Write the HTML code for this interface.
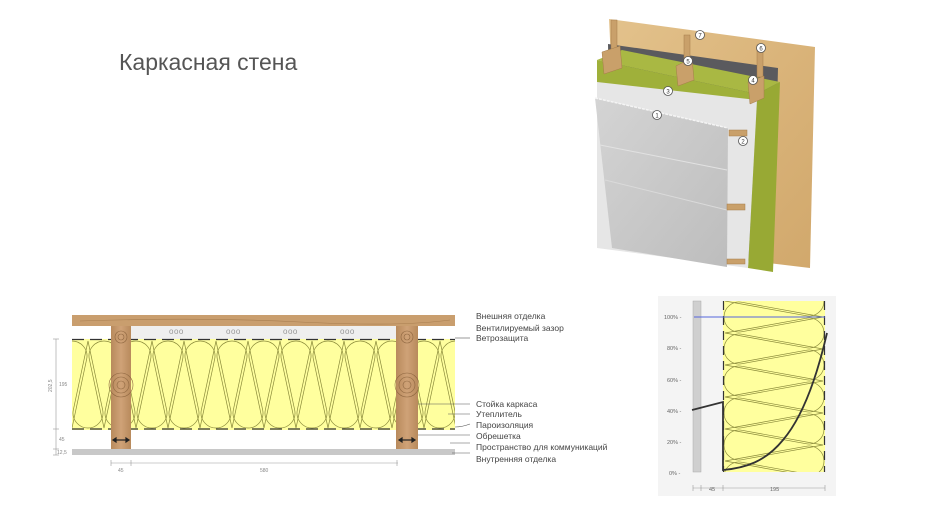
<!DOCTYPE html>
<html><head><meta charset="utf-8"><style>
html,body{margin:0;padding:0;background:#fff;}
svg{display:block;font-family:"Liberation Sans",sans-serif;}
</style></head><body>
<svg width="940" height="528" viewBox="0 0 940 528" xmlns="http://www.w3.org/2000/svg">
<defs>
<linearGradient id="wood" x1="0" y1="0" x2="1" y2="1">
<stop offset="0" stop-color="#e3c28c"/><stop offset="0.5" stop-color="#dab47a"/><stop offset="1" stop-color="#d1a86c"/></linearGradient>
<linearGradient id="stud" x1="0" y1="0" x2="1" y2="0">
<stop offset="0" stop-color="#b88a5c"/><stop offset="0.5" stop-color="#cfa277"/><stop offset="1" stop-color="#b88a5c"/></linearGradient>
<linearGradient id="sid" x1="0" y1="0" x2="1" y2="1">
<stop offset="0" stop-color="#d4d4d4"/><stop offset="1" stop-color="#bdbdbd"/></linearGradient>
<clipPath id="ins"><rect x="72" y="339" width="383" height="91"/></clipPath>
<clipPath id="gins"><rect x="723" y="301" width="102" height="171"/></clipPath>
<g id="tl"><path d="M-14.67,359.1 A15 15 0 1 1 14.67,359.1 L0,428 Z" fill="none" stroke="#8a8a3a" stroke-width="0.7"/></g>
<g id="bl"><path d="M-14.67,409.9 A15 15 0 1 0 14.67,409.9 L0,341 Z" fill="none" stroke="#8a8a3a" stroke-width="0.7"/></g>
<g id="gl"><path d="M742.1,-14.67 A15 15 0 1 0 742.1,14.67 L823,0 Z" fill="none" stroke="#8a8a3a" stroke-width="0.7"/></g>
<g id="gr"><path d="M805.9,-14.67 A15 15 0 1 1 805.9,14.67 L725,0 Z" fill="none" stroke="#8a8a3a" stroke-width="0.7"/></g>
</defs>

<text x="119" y="70" font-size="23" fill="#555">Каркасная стена</text>

<!-- 3D illustration -->
<polygon points="609,19 815,47 810,268 620,245" fill="url(#wood)"/>
<polygon points="608,44 778,68 773,264 612,240" fill="#5a5a5e"/>
<polygon points="597,60 622,50 780,82 757,94" fill="#a9b843"/>
<polygon points="597,60 757,94 757,110 597,84" fill="#9fb03a"/>
<polygon points="757,94 780,82 773,272 748,268" fill="#98a934"/>
<polygon points="597,82 757,100 748,268 597,248" fill="#e6e6e6"/>
<polygon points="595,98 728,128 727,267 612,248" fill="url(#sid)"/>
<line x1="600" y1="145" x2="727" y2="170" stroke="#e2e2e2" stroke-width="1"/>
<line x1="605" y1="180" x2="727" y2="210" stroke="#dadada" stroke-width="1"/>
<line x1="595" y1="98" x2="728" y2="128" stroke="#f5f5f5" stroke-width="1.5" stroke-dasharray="3 1"/>
<g fill="#c9a06a" stroke="#a57d4a" stroke-width="0.5">
<rect x="611" y="20" width="6" height="30"/><rect x="684" y="35" width="6" height="30"/><rect x="757" y="45" width="6" height="32"/>
<polygon points="602,52 620,46 622,68 604,74"/><polygon points="676,66 692,58 694,80 678,86"/><polygon points="748,82 764,76 764,98 750,104"/>
<rect x="729" y="130" width="18" height="6"/><rect x="727" y="204" width="18" height="6"/><rect x="727" y="259" width="18" height="5"/>
</g>
<g font-size="6" text-anchor="middle" fill="#333">
<circle cx="700" cy="35" r="4.5" fill="#fff" stroke="#555" stroke-width="0.8"/><text x="700" y="37.5">7</text>
<circle cx="761" cy="48" r="4.5" fill="#fff" stroke="#555" stroke-width="0.8"/><text x="761" y="50.5">6</text>
<circle cx="688" cy="61" r="4.5" fill="#fff" stroke="#555" stroke-width="0.8"/><text x="688" y="63.5">5</text>
<circle cx="753" cy="80" r="4.5" fill="#fff" stroke="#555" stroke-width="0.8"/><text x="753" y="82.5">4</text>
<circle cx="668" cy="91" r="4.5" fill="#fff" stroke="#555" stroke-width="0.8"/><text x="668" y="93.5">3</text>
<circle cx="657" cy="115" r="4.5" fill="#fff" stroke="#555" stroke-width="0.8"/><text x="657" y="117.5">1</text>
<circle cx="743" cy="141" r="4.5" fill="#fff" stroke="#555" stroke-width="0.8"/><text x="743" y="143.5">2</text>
</g>

<!-- Section diagram -->
<rect x="72" y="315" width="383" height="11" fill="#c99e6e"/>
<path d="M80,321 Q200,317 300,322 T450,320" stroke="#a97e50" fill="none" stroke-width="0.6"/>
<rect x="131" y="326" width="265" height="13" fill="#efefef"/>
<g font-size="8" fill="#999" letter-spacing="0.5"><text x="169" y="334">ooo</text><text x="226" y="334">ooo</text><text x="283" y="334">ooo</text><text x="340" y="334">ooo</text></g>
<rect x="72" y="339" width="383" height="91" fill="#ffff9e"/>
<g clip-path="url(#ins)">
<use href="#tl" x="72"/><use href="#tl" x="104"/><use href="#tl" x="136"/><use href="#tl" x="168"/><use href="#tl" x="200"/><use href="#tl" x="232"/><use href="#tl" x="264"/><use href="#tl" x="296"/><use href="#tl" x="328"/><use href="#tl" x="360"/><use href="#tl" x="392"/><use href="#tl" x="424"/><use href="#tl" x="456"/>
<use href="#bl" x="88"/><use href="#bl" x="120"/><use href="#bl" x="152"/><use href="#bl" x="184"/><use href="#bl" x="216"/><use href="#bl" x="248"/><use href="#bl" x="280"/><use href="#bl" x="312"/><use href="#bl" x="344"/><use href="#bl" x="376"/><use href="#bl" x="408"/><use href="#bl" x="440"/>
</g>
<line x1="72" y1="339.5" x2="455" y2="339.5" stroke="#333" stroke-width="1.2" stroke-dasharray="12 6"/>
<line x1="72" y1="429" x2="455" y2="429" stroke="#333" stroke-width="1.2" stroke-dasharray="12 6"/>
<rect x="72" y="449" width="383" height="6" fill="#c8c8c8"/>
<rect x="111" y="326" width="20" height="123" fill="url(#stud)"/>
<rect x="396" y="326" width="22" height="123" fill="url(#stud)"/>
<g fill="none" stroke="#8e6640" stroke-width="0.6">
<circle cx="121" cy="385" r="4"/><circle cx="121" cy="385" r="8"/><circle cx="121" cy="385" r="12"/>
<circle cx="121" cy="337" r="3"/><circle cx="121" cy="337" r="6"/>
<circle cx="407" cy="385" r="4"/><circle cx="407" cy="385" r="8"/><circle cx="407" cy="385" r="12"/>
<circle cx="407" cy="337" r="3"/><circle cx="407" cy="337" r="6"/>
</g>
<g stroke="#222" stroke-width="1.2" fill="#222">
<line x1="114" y1="440" x2="128" y2="440"/><path d="M113,440 l3,-2 v4z M129,440 l-3,-2 v4z"/>
<line x1="400" y1="440" x2="414" y2="440"/><path d="M399,440 l3,-2 v4z M415,440 l-3,-2 v4z"/>
</g>
<!-- dimensions -->
<g stroke="#999" stroke-width="0.6">
<line x1="56" y1="339" x2="56" y2="455"/>
<line x1="53" y1="339" x2="59" y2="339"/><line x1="53" y1="429" x2="59" y2="429"/><line x1="53" y1="449" x2="59" y2="449"/><line x1="53" y1="455" x2="59" y2="455"/>
<line x1="111" y1="463" x2="398" y2="463"/>
<line x1="111" y1="460" x2="111" y2="466"/><line x1="131" y1="460" x2="131" y2="466"/><line x1="397" y1="460" x2="397" y2="466"/>
</g>
<g font-size="5" fill="#888">
<text x="59" y="386">195</text><text x="59" y="441">45</text><text x="57" y="454">12,5</text>
<text x="118" y="472">45</text><text x="260" y="472">580</text>
<text x="0" y="0" transform="translate(52,392) rotate(-90)">202,5</text>
</g>
<!-- leader lines -->
<g stroke="#555" stroke-width="0.6">
<line x1="455" y1="338" x2="470" y2="338"/>
<line x1="418" y1="404" x2="470" y2="404"/>
<line x1="448" y1="414" x2="470" y2="414"/>
<path d="M455,427 Q462,427 470,424" fill="none"/>
<line x1="418" y1="435" x2="470" y2="435"/>
<line x1="450" y1="443" x2="470" y2="443"/>
<line x1="452" y1="453" x2="470" y2="453"/>
</g>
<g font-size="8.5" fill="#444">
<text x="476" y="319">Внешняя отделка</text>
<text x="476" y="331">Вентилируемый зазор</text>
<text x="476" y="341">Ветрозащита</text>
<text x="476" y="407">Стойка каркаса</text>
<text x="476" y="417">Утеплитель</text>
<text x="476" y="428">Пароизоляция</text>
<text x="476" y="439">Обрешетка</text>
<text x="476" y="450">Пространство для коммуникаций</text>
<text x="476" y="462">Внутренняя отделка</text>
</g>

<!-- Graph -->
<rect x="658" y="296" width="178" height="200" fill="#f4f4f4"/>
<rect x="693" y="301" width="8" height="171" fill="#cfcfcf" stroke="#aaa" stroke-width="0.5"/>
<rect x="723" y="301" width="102" height="171" fill="#ffff9e"/>
<g clip-path="url(#gins)">
<use href="#gl" y="317"/><use href="#gl" y="349"/><use href="#gl" y="381"/><use href="#gl" y="413"/><use href="#gl" y="445"/><use href="#gl" y="477"/>
<use href="#gr" y="301"/><use href="#gr" y="333"/><use href="#gr" y="365"/><use href="#gr" y="397"/><use href="#gr" y="429"/><use href="#gr" y="461"/>
</g>
<line x1="723.5" y1="301" x2="723.5" y2="472" stroke="#333" stroke-width="1.2" stroke-dasharray="9 6"/>
<line x1="824.5" y1="301" x2="824.5" y2="472" stroke="#333" stroke-width="1.2" stroke-dasharray="9 6"/>
<line x1="694" y1="317" x2="825" y2="317" stroke="#5566dd" stroke-width="1"/>
<path d="M692,410 L723,402 L723,470 C745,468 765,462 783,440 C800,420 815,385 827,333" fill="none" stroke="#333" stroke-width="1.8"/>
<g font-size="5.5" fill="#666">
<text x="664" y="319">100% -</text><text x="667" y="350">80% -</text><text x="667" y="382">60% -</text><text x="667" y="413">40% -</text><text x="667" y="444">20% -</text><text x="669" y="475">0% -</text>
<text x="709" y="491">45</text><text x="770" y="491">195</text>
</g>
<g stroke="#999" stroke-width="0.6">
<line x1="693" y1="488" x2="825" y2="488"/>
<line x1="693" y1="485" x2="693" y2="491"/><line x1="701" y1="485" x2="701" y2="491"/><line x1="723" y1="485" x2="723" y2="491"/><line x1="825" y1="485" x2="825" y2="491"/>
</g>
</svg>
</body></html>
